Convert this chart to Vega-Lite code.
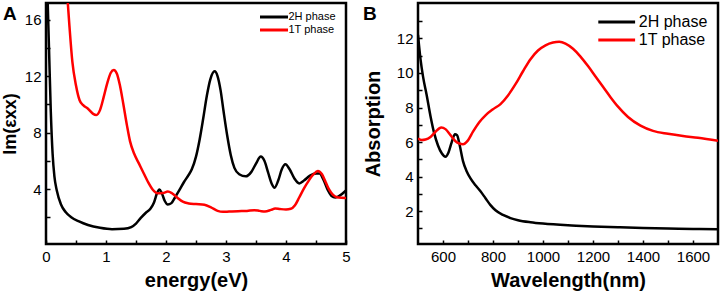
{
  "$schema": "https://vega.github.io/schema/vega-lite/v6.json",
  "background": "white",
  "padding": {"left": 0, "top": 1, "right": 0, "bottom": 0},
  "bounds": "flush",
  "spacing": 72,
  "config": {
    "font": "Liberation Sans",
    "view": {"stroke": "#000000", "strokeWidth": 2.5, "strokeOpacity": 1},
    "style": {"cell": {"stroke": "#000000", "strokeWidth": 2.5, "strokeOpacity": 1}},
    "axis": {"grid": false, "domain": false, "tickColor": "black", "tickWidth": 1.5, "labelColor": "black", "titleColor": "black", "labelFont": "Liberation Sans", "titleFont": "Liberation Sans", "labelFontSize": 15, "titleFontSize": 20, "titleFontWeight": "bold", "labelFlush": false, "labelOverlap": false},
    "legend": {"labelFont": "Liberation Sans", "labelColor": "black"}
  },
  "resolve": {"scale": {"color": "independent"}, "legend": {"color": "independent"}},
  "datasets": {
    "a": [
      {"e": 0.02, "v": 18.5, "s": "2H phase"}, {"e": 0.05, "v": 14.0, "s": "2H phase"}, {"e": 0.08, "v": 9.5, "s": "2H phase"}, {"e": 0.11, "v": 6.5, "s": "2H phase"}, {"e": 0.14, "v": 4.9, "s": "2H phase"}, {"e": 0.18, "v": 3.9, "s": "2H phase"}, {"e": 0.25, "v": 2.9, "s": "2H phase"}, {"e": 0.33, "v": 2.35, "s": "2H phase"}, {"e": 0.42, "v": 2.0, "s": "2H phase"}, {"e": 0.55, "v": 1.7, "s": "2H phase"}, {"e": 0.7, "v": 1.45, "s": "2H phase"}, {"e": 0.9, "v": 1.25, "s": "2H phase"}, {"e": 1.1, "v": 1.15, "s": "2H phase"}, {"e": 1.3, "v": 1.18, "s": "2H phase"}, {"e": 1.42, "v": 1.3, "s": "2H phase"}, {"e": 1.5, "v": 1.55, "s": "2H phase"}, {"e": 1.58, "v": 1.95, "s": "2H phase"}, {"e": 1.66, "v": 2.3, "s": "2H phase"}, {"e": 1.74, "v": 2.6, "s": "2H phase"}, {"e": 1.8, "v": 3.05, "s": "2H phase"}, {"e": 1.85, "v": 3.7, "s": "2H phase"}, {"e": 1.89, "v": 3.97, "s": "2H phase"}, {"e": 1.93, "v": 3.7, "s": "2H phase"}, {"e": 1.98, "v": 3.15, "s": "2H phase"}, {"e": 2.03, "v": 2.9, "s": "2H phase"}, {"e": 2.09, "v": 3.0, "s": "2H phase"}, {"e": 2.15, "v": 3.4, "s": "2H phase"}, {"e": 2.22, "v": 3.9, "s": "2H phase"}, {"e": 2.3, "v": 4.5, "s": "2H phase"}, {"e": 2.37, "v": 4.95, "s": "2H phase"}, {"e": 2.43, "v": 5.4, "s": "2H phase"}, {"e": 2.5, "v": 6.3, "s": "2H phase"}, {"e": 2.56, "v": 7.5, "s": "2H phase"}, {"e": 2.62, "v": 9.0, "s": "2H phase"}, {"e": 2.68, "v": 10.6, "s": "2H phase"}, {"e": 2.74, "v": 11.8, "s": "2H phase"}, {"e": 2.81, "v": 12.35, "s": "2H phase"}, {"e": 2.86, "v": 12.0, "s": "2H phase"}, {"e": 2.91, "v": 11.0, "s": "2H phase"}, {"e": 2.96, "v": 9.5, "s": "2H phase"}, {"e": 3.02, "v": 7.8, "s": "2H phase"}, {"e": 3.08, "v": 6.4, "s": "2H phase"}, {"e": 3.14, "v": 5.5, "s": "2H phase"}, {"e": 3.22, "v": 5.05, "s": "2H phase"}, {"e": 3.33, "v": 4.9, "s": "2H phase"}, {"e": 3.42, "v": 5.2, "s": "2H phase"}, {"e": 3.5, "v": 5.8, "s": "2H phase"}, {"e": 3.58, "v": 6.3, "s": "2H phase"}, {"e": 3.64, "v": 6.0, "s": "2H phase"}, {"e": 3.7, "v": 5.2, "s": "2H phase"}, {"e": 3.76, "v": 4.4, "s": "2H phase"}, {"e": 3.81, "v": 4.1, "s": "2H phase"}, {"e": 3.87, "v": 4.6, "s": "2H phase"}, {"e": 3.93, "v": 5.4, "s": "2H phase"}, {"e": 3.99, "v": 5.75, "s": "2H phase"}, {"e": 4.06, "v": 5.4, "s": "2H phase"}, {"e": 4.14, "v": 4.75, "s": "2H phase"}, {"e": 4.22, "v": 4.4, "s": "2H phase"}, {"e": 4.3, "v": 4.6, "s": "2H phase"}, {"e": 4.4, "v": 4.95, "s": "2H phase"}, {"e": 4.5, "v": 5.1, "s": "2H phase"}, {"e": 4.56, "v": 5.1, "s": "2H phase"}, {"e": 4.62, "v": 4.7, "s": "2H phase"}, {"e": 4.7, "v": 3.9, "s": "2H phase"}, {"e": 4.76, "v": 3.5, "s": "2H phase"}, {"e": 4.82, "v": 3.4, "s": "2H phase"}, {"e": 4.9, "v": 3.55, "s": "2H phase"}, {"e": 5.0, "v": 3.9, "s": "2H phase"},
      {"e": 0.35, "v": 18.0, "s": "1T phase"}, {"e": 0.39, "v": 15.6, "s": "1T phase"}, {"e": 0.44, "v": 13.0, "s": "1T phase"}, {"e": 0.5, "v": 11.35, "s": "1T phase"}, {"e": 0.56, "v": 10.3, "s": "1T phase"}, {"e": 0.62, "v": 9.95, "s": "1T phase"}, {"e": 0.7, "v": 9.7, "s": "1T phase"}, {"e": 0.78, "v": 9.35, "s": "1T phase"}, {"e": 0.84, "v": 9.25, "s": "1T phase"}, {"e": 0.9, "v": 9.6, "s": "1T phase"}, {"e": 0.96, "v": 10.5, "s": "1T phase"}, {"e": 1.02, "v": 11.5, "s": "1T phase"}, {"e": 1.08, "v": 12.25, "s": "1T phase"}, {"e": 1.13, "v": 12.45, "s": "1T phase"}, {"e": 1.18, "v": 12.2, "s": "1T phase"}, {"e": 1.23, "v": 11.4, "s": "1T phase"}, {"e": 1.29, "v": 10.0, "s": "1T phase"}, {"e": 1.35, "v": 8.5, "s": "1T phase"}, {"e": 1.4, "v": 7.4, "s": "1T phase"}, {"e": 1.47, "v": 6.5, "s": "1T phase"}, {"e": 1.55, "v": 5.8, "s": "1T phase"}, {"e": 1.63, "v": 5.1, "s": "1T phase"}, {"e": 1.7, "v": 4.5, "s": "1T phase"}, {"e": 1.78, "v": 3.95, "s": "1T phase"}, {"e": 1.86, "v": 3.7, "s": "1T phase"}, {"e": 1.95, "v": 3.72, "s": "1T phase"}, {"e": 2.03, "v": 3.82, "s": "1T phase"}, {"e": 2.1, "v": 3.7, "s": "1T phase"}, {"e": 2.19, "v": 3.38, "s": "1T phase"}, {"e": 2.28, "v": 3.1, "s": "1T phase"}, {"e": 2.38, "v": 2.98, "s": "1T phase"}, {"e": 2.5, "v": 2.93, "s": "1T phase"}, {"e": 2.64, "v": 2.88, "s": "1T phase"}, {"e": 2.75, "v": 2.7, "s": "1T phase"}, {"e": 2.86, "v": 2.45, "s": "1T phase"}, {"e": 2.95, "v": 2.38, "s": "1T phase"}, {"e": 3.05, "v": 2.4, "s": "1T phase"}, {"e": 3.2, "v": 2.43, "s": "1T phase"}, {"e": 3.35, "v": 2.45, "s": "1T phase"}, {"e": 3.47, "v": 2.5, "s": "1T phase"}, {"e": 3.56, "v": 2.45, "s": "1T phase"}, {"e": 3.65, "v": 2.4, "s": "1T phase"}, {"e": 3.75, "v": 2.52, "s": "1T phase"}, {"e": 3.82, "v": 2.62, "s": "1T phase"}, {"e": 3.9, "v": 2.58, "s": "1T phase"}, {"e": 4.0, "v": 2.55, "s": "1T phase"}, {"e": 4.08, "v": 2.6, "s": "1T phase"}, {"e": 4.15, "v": 2.85, "s": "1T phase"}, {"e": 4.22, "v": 3.4, "s": "1T phase"}, {"e": 4.3, "v": 4.05, "s": "1T phase"}, {"e": 4.38, "v": 4.6, "s": "1T phase"}, {"e": 4.46, "v": 5.05, "s": "1T phase"}, {"e": 4.53, "v": 5.28, "s": "1T phase"}, {"e": 4.6, "v": 5.05, "s": "1T phase"}, {"e": 4.66, "v": 4.5, "s": "1T phase"}, {"e": 4.72, "v": 3.95, "s": "1T phase"}, {"e": 4.78, "v": 3.6, "s": "1T phase"}, {"e": 4.85, "v": 3.42, "s": "1T phase"}, {"e": 4.92, "v": 3.38, "s": "1T phase"}, {"e": 5.0, "v": 3.37, "s": "1T phase"}
    ],
    "b": [
      {"w": 500, "v": 12.2, "s": "2H phase"}, {"w": 510, "v": 10.8, "s": "2H phase"}, {"w": 520, "v": 9.8, "s": "2H phase"}, {"w": 535, "v": 8.7, "s": "2H phase"}, {"w": 550, "v": 7.5, "s": "2H phase"}, {"w": 565, "v": 6.5, "s": "2H phase"}, {"w": 580, "v": 5.8, "s": "2H phase"}, {"w": 595, "v": 5.35, "s": "2H phase"}, {"w": 610, "v": 5.15, "s": "2H phase"}, {"w": 622, "v": 5.4, "s": "2H phase"}, {"w": 635, "v": 6.0, "s": "2H phase"}, {"w": 648, "v": 6.45, "s": "2H phase"}, {"w": 656, "v": 6.4, "s": "2H phase"}, {"w": 667, "v": 5.8, "s": "2H phase"}, {"w": 680, "v": 4.9, "s": "2H phase"}, {"w": 695, "v": 4.3, "s": "2H phase"}, {"w": 710, "v": 3.9, "s": "2H phase"}, {"w": 730, "v": 3.5, "s": "2H phase"}, {"w": 750, "v": 3.15, "s": "2H phase"}, {"w": 770, "v": 2.75, "s": "2H phase"}, {"w": 790, "v": 2.35, "s": "2H phase"}, {"w": 810, "v": 2.05, "s": "2H phase"}, {"w": 840, "v": 1.78, "s": "2H phase"}, {"w": 870, "v": 1.6, "s": "2H phase"}, {"w": 900, "v": 1.48, "s": "2H phase"}, {"w": 950, "v": 1.36, "s": "2H phase"}, {"w": 1000, "v": 1.28, "s": "2H phase"}, {"w": 1100, "v": 1.18, "s": "2H phase"}, {"w": 1200, "v": 1.12, "s": "2H phase"}, {"w": 1300, "v": 1.07, "s": "2H phase"}, {"w": 1400, "v": 1.03, "s": "2H phase"}, {"w": 1500, "v": 1.0, "s": "2H phase"}, {"w": 1600, "v": 0.97, "s": "2H phase"}, {"w": 1700, "v": 0.95, "s": "2H phase"},
      {"w": 500, "v": 6.2, "s": "1T phase"}, {"w": 515, "v": 6.12, "s": "1T phase"}, {"w": 530, "v": 6.15, "s": "1T phase"}, {"w": 550, "v": 6.3, "s": "1T phase"}, {"w": 570, "v": 6.6, "s": "1T phase"}, {"w": 593, "v": 6.85, "s": "1T phase"}, {"w": 610, "v": 6.75, "s": "1T phase"}, {"w": 630, "v": 6.4, "s": "1T phase"}, {"w": 650, "v": 6.05, "s": "1T phase"}, {"w": 665, "v": 5.92, "s": "1T phase"}, {"w": 680, "v": 5.88, "s": "1T phase"}, {"w": 700, "v": 6.1, "s": "1T phase"}, {"w": 720, "v": 6.6, "s": "1T phase"}, {"w": 745, "v": 7.15, "s": "1T phase"}, {"w": 770, "v": 7.55, "s": "1T phase"}, {"w": 800, "v": 7.9, "s": "1T phase"}, {"w": 830, "v": 8.2, "s": "1T phase"}, {"w": 860, "v": 8.7, "s": "1T phase"}, {"w": 890, "v": 9.35, "s": "1T phase"}, {"w": 920, "v": 10.1, "s": "1T phase"}, {"w": 950, "v": 10.8, "s": "1T phase"}, {"w": 980, "v": 11.3, "s": "1T phase"}, {"w": 1010, "v": 11.6, "s": "1T phase"}, {"w": 1040, "v": 11.76, "s": "1T phase"}, {"w": 1065, "v": 11.8, "s": "1T phase"}, {"w": 1090, "v": 11.7, "s": "1T phase"}, {"w": 1120, "v": 11.4, "s": "1T phase"}, {"w": 1150, "v": 10.95, "s": "1T phase"}, {"w": 1180, "v": 10.4, "s": "1T phase"}, {"w": 1210, "v": 9.8, "s": "1T phase"}, {"w": 1240, "v": 9.2, "s": "1T phase"}, {"w": 1270, "v": 8.6, "s": "1T phase"}, {"w": 1300, "v": 8.05, "s": "1T phase"}, {"w": 1340, "v": 7.45, "s": "1T phase"}, {"w": 1390, "v": 6.95, "s": "1T phase"}, {"w": 1440, "v": 6.65, "s": "1T phase"}, {"w": 1500, "v": 6.48, "s": "1T phase"}, {"w": 1560, "v": 6.35, "s": "1T phase"}, {"w": 1620, "v": 6.25, "s": "1T phase"}, {"w": 1700, "v": 6.08, "s": "1T phase"}
    ]
  },
  "hconcat": [
    {
      "width": 300,
      "height": 241,
      "view": {"stroke": "#000000", "strokeWidth": 2.5},
      "layer": [
        {
          "data": {"name": "a"},
          "mark": {"type": "line", "clip": true, "strokeWidth": 2.5, "interpolate": "monotone"},
          "encoding": {
            "x": {"field": "e", "type": "quantitative", "scale": {"domain": [0, 5], "nice": false, "zero": false},
              "axis": {"title": "energy(eV)", "values": [0, 0.5, 1, 1.5, 2, 2.5, 3, 3.5, 4, 4.5, 5], "labelExpr": "datum.value % 1 === 0 ? '' + datum.value : ''", "tickSize": -4, "labelPadding": 9, "titlePadding": 6}},
            "y": {"field": "v", "type": "quantitative", "scale": {"domain": [0.1, 17.2], "nice": false, "zero": false},
              "axis": {"title": "Im(εxx)", "titleFontSize": 18, "values": [2, 4, 6, 8, 10, 12, 14, 16], "labelExpr": "datum.value % 4 === 0 ? '' + datum.value : ''", "tickSize": -4, "labelPadding": 9, "titlePadding": 5}},
            "color": {"field": "s", "type": "nominal", "sort": ["2H phase", "1T phase"], "scale": {"domain": ["2H phase", "1T phase"], "range": ["#000000", "#ff0000"]},
              "legend": {"orient": "none", "legendX": 221, "legendY": 7, "padding": 0, "title": null, "symbolType": "M-2.55,0H2.55", "symbolSize": 121, "symbolStrokeWidth": 3, "labelFontSize": 11, "labelOffset": 7.5, "rowPadding": 0}}
          }
        },
        {
          "data": {"values": [{"panel": "A"}]},
          "mark": {"type": "text", "font": "Liberation Sans", "fontSize": 19, "fontWeight": "bold", "align": "left", "baseline": "alphabetic", "color": "black"},
          "encoding": {"text": {"field": "panel"},
            "x": {"datum": -0.717, "type": "quantitative", "axis": {"title": "energy(eV)", "values": [0, 0.5, 1, 1.5, 2, 2.5, 3, 3.5, 4, 4.5, 5], "labelExpr": "datum.value % 1 === 0 ? '' + datum.value : ''", "tickSize": -4, "labelPadding": 9, "titlePadding": 6}},
            "y": {"datum": 16.0, "type": "quantitative", "axis": {"title": "Im(εxx)", "titleFontSize": 18, "values": [2, 4, 6, 8, 10, 12, 14, 16], "labelExpr": "datum.value % 4 === 0 ? '' + datum.value : ''", "tickSize": -4, "labelPadding": 9, "titlePadding": 5}}}
        }
      ]
    },
    {
      "width": 300,
      "height": 241,
      "view": {"stroke": "#000000", "strokeWidth": 2.5},
      "layer": [
        {
          "data": {"name": "b"},
          "mark": {"type": "line", "clip": true, "strokeWidth": 2.5, "interpolate": "monotone"},
          "encoding": {
            "x": {"field": "w", "type": "quantitative", "scale": {"domain": [500, 1700], "nice": false, "zero": false},
              "axis": {"title": "Wavelength(nm)", "values": [600, 700, 800, 900, 1000, 1100, 1200, 1300, 1400, 1500, 1600], "labelExpr": "datum.value % 200 === 0 ? '' + datum.value : ''", "tickSize": -4, "labelPadding": 9, "titlePadding": 6}},
            "y": {"field": "v", "type": "quantitative", "scale": {"domain": [0.1, 14.05], "nice": false, "zero": false},
              "axis": {"title": "Absorption", "values": [1, 2, 3, 4, 5, 6, 7, 8, 9, 10, 11, 12, 13], "labelExpr": "datum.value % 2 === 0 ? '' + datum.value : ''", "tickSize": -4, "labelPadding": 9, "titlePadding": 13}},
            "color": {"field": "s", "type": "nominal", "sort": ["2H phase", "1T phase"], "scale": {"domain": ["2H phase", "1T phase"], "range": ["#000000", "#ff0000"]},
              "legend": {"orient": "none", "legendX": 189.2, "legendY": 9.5, "padding": 0, "title": null, "symbolType": "M-2.3,0H2.3", "symbolSize": 256, "symbolStrokeWidth": 3, "labelFontSize": 16, "labelOffset": 12.6, "rowPadding": 0}}
          }
        },
        {
          "data": {"values": [{"panel": "B"}]},
          "mark": {"type": "text", "font": "Liberation Sans", "fontSize": 19, "fontWeight": "bold", "align": "left", "baseline": "alphabetic", "color": "black"},
          "encoding": {"text": {"field": "panel"},
            "x": {"datum": 280, "type": "quantitative", "axis": {"title": "Wavelength(nm)", "values": [600, 700, 800, 900, 1000, 1100, 1200, 1300, 1400, 1500, 1600], "labelExpr": "datum.value % 200 === 0 ? '' + datum.value : ''", "tickSize": -4, "labelPadding": 9, "titlePadding": 6}},
            "y": {"datum": 13.07, "type": "quantitative", "axis": {"title": "Absorption", "values": [1, 2, 3, 4, 5, 6, 7, 8, 9, 10, 11, 12, 13], "labelExpr": "datum.value % 2 === 0 ? '' + datum.value : ''", "tickSize": -4, "labelPadding": 9, "titlePadding": 13}}}
        }
      ]
    }
  ]
}
